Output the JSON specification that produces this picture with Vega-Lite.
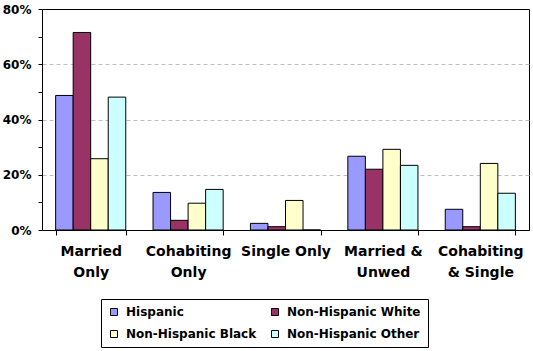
{
  "$schema": "https://vega.github.io/schema/vega-lite/v6.json",
  "width": 487,
  "height": 221,
  "autosize": "none",
  "padding": {"left": 42, "top": 9, "right": 4, "bottom": 121},
  "background": "white",
  "config": {"view": {"stroke": "black", "strokeWidth": 1}, "font": "DejaVu Sans"},
  "data": {"values": [
    {"status": "Married Only", "group": "Hispanic", "share": 48.7},
    {"status": "Married Only", "group": "Non-Hispanic White", "share": 71.5},
    {"status": "Married Only", "group": "Non-Hispanic Black", "share": 25.8},
    {"status": "Married Only", "group": "Non-Hispanic Other", "share": 48.1},
    {"status": "Cohabiting Only", "group": "Hispanic", "share": 13.6},
    {"status": "Cohabiting Only", "group": "Non-Hispanic White", "share": 3.5},
    {"status": "Cohabiting Only", "group": "Non-Hispanic Black", "share": 9.7},
    {"status": "Cohabiting Only", "group": "Non-Hispanic Other", "share": 14.7},
    {"status": "Single Only", "group": "Hispanic", "share": 2.4},
    {"status": "Single Only", "group": "Non-Hispanic White", "share": 1.2},
    {"status": "Single Only", "group": "Non-Hispanic Black", "share": 10.7},
    {"status": "Single Only", "group": "Non-Hispanic Other", "share": 0},
    {"status": "Married & Unwed", "group": "Hispanic", "share": 26.7},
    {"status": "Married & Unwed", "group": "Non-Hispanic White", "share": 22.0},
    {"status": "Married & Unwed", "group": "Non-Hispanic Black", "share": 29.2},
    {"status": "Married & Unwed", "group": "Non-Hispanic Other", "share": 23.4},
    {"status": "Cohabiting & Single", "group": "Hispanic", "share": 7.5},
    {"status": "Cohabiting & Single", "group": "Non-Hispanic White", "share": 1.2},
    {"status": "Cohabiting & Single", "group": "Non-Hispanic Black", "share": 24.1},
    {"status": "Cohabiting & Single", "group": "Non-Hispanic Other", "share": 13.3}
  ]},
  "mark": {"type": "bar", "stroke": "black", "strokeWidth": 1},
  "encoding": {
    "x": {
      "field": "status", "type": "nominal",
      "sort": ["Married Only", "Cohabiting Only", "Single Only", "Married & Unwed", "Cohabiting & Single"],
      "scale": {"paddingInner": 0.28, "paddingOuter": 0.14},
      "axis": {
        "title": null, "labelAngle": 0, "tickBand": "extent", "tickSize": 5,
        "tickColor": "black", "domainColor": "black",
        "labelFont": "DejaVu Sans", "labelFontWeight": "bold", "labelFontSize": 14,
        "labelColor": "black", "labelPadding": 9, "labelLineHeight": 21,
        "labelBaseline": "top", "labelLimit": 0,
        "labelExpr": "datum.label == 'Married & Unwed' ? ['Married &', 'Unwed'] : datum.label == 'Single Only' ? 'Single Only' : datum.label == 'Cohabiting & Single' ? ['Cohabiting', '& Single'] : split(datum.label, ' ')"
      }
    },
    "xOffset": {
      "field": "group", "type": "nominal",
      "sort": ["Hispanic", "Non-Hispanic White", "Non-Hispanic Black", "Non-Hispanic Other"],
      "scale": {"paddingInner": 0, "paddingOuter": 0}
    },
    "y": {
      "field": "share", "type": "quantitative",
      "scale": {"domain": [0, 80], "nice": false},
      "axis": {
        "title": null,
        "values": [0, 10, 20, 30, 40, 50, 60, 70, 80],
        "labelExpr": "datum.value % 20 == 0 ? datum.value + '%' : ''",
        "grid": true, "gridDash": [4, 3], "gridColor": "#BFBFBF",
        "gridOpacity": {"condition": {"test": "datum.value % 20 == 0 && datum.value > 0 && datum.value < 80", "value": 1}, "value": 0},
        "tickSize": 4, "tickColor": "black", "domainColor": "black",
        "labelFont": "DejaVu Sans", "labelFontWeight": "bold", "labelFontSize": 12,
        "labelColor": "black", "labelPadding": 7
      }
    },
    "color": {
      "field": "group", "type": "nominal",
      "scale": {
        "domain": ["Hispanic", "Non-Hispanic White", "Non-Hispanic Black", "Non-Hispanic Other"],
        "range": ["#9999FF", "#993366", "#FFFFCC", "#CCFFFF"]
      },
      "legend": {
        "title": null, "orient": "none", "legendX": 59, "legendY": 290,
        "direction": "horizontal",
        "columns": 2, "symbolType": "square", "symbolSize": 49,
        "symbolStrokeColor": "black", "symbolStrokeWidth": 1,
        "labelFont": "DejaVu Sans", "labelFontWeight": "bold", "labelFontSize": 12,
        "labelColor": "black", "labelOffset": 6, "strokeColor": "black",
        "fillColor": "white", "padding": 7, "columnPadding": 12, "rowPadding": 10
      }
    }
  }
}
